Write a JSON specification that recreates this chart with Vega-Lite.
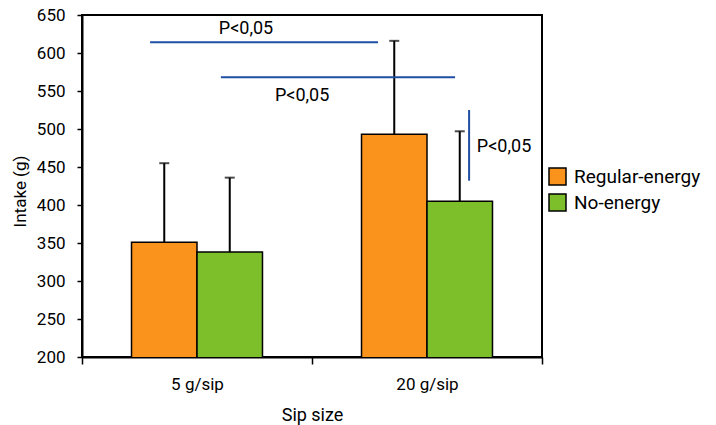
{
  "$schema": "https://vega.github.io/schema/vega-lite/v6.json",
  "width": 460,
  "height": 342,
  "autosize": {"type": "none"},
  "padding": {"left": 82, "top": 15, "right": 174, "bottom": 68},
  "background": "white",
  "config": {
    "font": "Roboto",
    "view": {"stroke": "black", "strokeWidth": 2},
    "axis": {"domainColor": "black", "domainWidth": 2, "tickColor": "black", "tickWidth": 1.5, "grid": false, "labelColor": "black", "titleColor": "black", "labelFont": "Roboto", "titleFont": "Roboto", "titleFontWeight": "normal"}
  },
  "datasets": {
    "bars": [
      {"sip": "5 g/sip", "drink": "Regular-energy", "intake": 351, "upper": 455},
      {"sip": "5 g/sip", "drink": "No-energy", "intake": 338, "upper": 436},
      {"sip": "20 g/sip", "drink": "Regular-energy", "intake": 493, "upper": 616},
      {"sip": "20 g/sip", "drink": "No-energy", "intake": 405, "upper": 497}
    ],
    "lines": [
      {"a": 0.296, "a2": 1.287, "v": 614, "v2": 614},
      {"a": 0.604, "a2": 1.622, "v": 568, "v2": 568},
      {"a": 1.683, "a2": 1.683, "v": 525, "v2": 432}
    ],
    "labels": [
      {"a": 0.713, "v": 632, "label": "P<0,05"},
      {"a": 0.957, "v": 543, "label": "P<0,05"},
      {"a": 1.835, "v": 476, "label": "P<0,05"}
    ]
  },
  "layer": [
    {
      "data": {"name": "bars"},
      "encoding": {
        "x": {"field": "sip", "type": "nominal", "sort": ["5 g/sip", "20 g/sip"],
          "scale": {"paddingInner": 0, "paddingOuter": 0},
          "axis": {"title": "Sip size", "labelAngle": 0, "tickBand": "extent", "labelFontSize": 17, "titleFontSize": 18, "tickSize": 7, "labelPadding": 12, "titlePadding": 14}},
        "xOffset": {"field": "drink", "type": "nominal", "sort": ["Regular-energy", "No-energy"],
          "scale": {"paddingInner": 0, "paddingOuter": 0.756}}
      },
      "layer": [
        {
          "mark": {"type": "bar", "stroke": "black", "strokeWidth": 1.5, "clip": true},
          "encoding": {
            "y": {"field": "intake", "type": "quantitative", "title": "Intake (g)",
              "scale": {"domain": [200, 650], "zero": false, "nice": false},
              "axis": {"values": [200, 250, 300, 350, 400, 450, 500, 550, 600, 650], "labelFontSize": 17, "titleFontSize": 17, "tickSize": 5, "labelPadding": 12, "titlePadding": 7, "titleY": 176}},
            "color": {"field": "drink", "type": "nominal", "sort": ["Regular-energy", "No-energy"],
              "scale": {"domain": ["Regular-energy", "No-energy"], "range": ["#F9931C", "#7DBE2B"]},
              "legend": {"title": null, "orient": "none", "legendX": 466, "legendY": 152, "symbolType": "square", "symbolSize": 289, "symbolStrokeColor": "black", "symbolStrokeWidth": 1.5, "symbolOpacity": 1, "labelFontSize": 19, "labelColor": "black", "labelFont": "Roboto", "labelOffset": 7, "rowPadding": 3}}
          }
        },
        {
          "mark": {"type": "rule", "color": "black", "strokeWidth": 2},
          "encoding": {
            "y": {"field": "intake", "type": "quantitative", "title": "Intake (g)",
              "scale": {"domain": [200, 650], "zero": false, "nice": false},
              "axis": {"values": [200, 250, 300, 350, 400, 450, 500, 550, 600, 650], "labelFontSize": 17, "titleFontSize": 17, "tickSize": 5, "labelPadding": 12, "titlePadding": 7, "titleY": 176}},
            "y2": {"field": "upper"}
          }
        },
        {
          "mark": {"type": "tick", "color": "black", "size": 10, "thickness": 2},
          "encoding": {
            "y": {"field": "upper", "type": "quantitative", "title": "Intake (g)",
              "scale": {"domain": [200, 650], "zero": false, "nice": false},
              "axis": {"values": [200, 250, 300, 350, 400, 450, 500, 550, 600, 650], "labelFontSize": 17, "titleFontSize": 17, "tickSize": 5, "labelPadding": 12, "titlePadding": 7, "titleY": 176}}
          }
        }
      ]
    },
    {
      "layer": [
        {
          "data": {"name": "lines"},
          "mark": {"type": "rule", "color": "#1F4FA3", "strokeWidth": 2},
          "encoding": {
            "x": {"field": "a", "type": "quantitative", "scale": {"domain": [0, 2], "nice": false, "zero": false}, "axis": null},
            "x2": {"field": "a2"},
            "y": {"field": "v", "type": "quantitative", "title": "Intake (g)",
              "scale": {"domain": [200, 650], "zero": false, "nice": false},
              "axis": {"values": [200, 250, 300, 350, 400, 450, 500, 550, 600, 650], "labelFontSize": 17, "titleFontSize": 17, "tickSize": 5, "labelPadding": 12, "titlePadding": 7, "titleY": 176}},
            "y2": {"field": "v2"}
          }
        },
        {
          "data": {"name": "labels"},
          "mark": {"type": "text", "fontSize": 18, "color": "black", "font": "Roboto"},
          "encoding": {
            "x": {"field": "a", "type": "quantitative", "scale": {"domain": [0, 2], "nice": false, "zero": false}, "axis": null},
            "y": {"field": "v", "type": "quantitative", "title": "Intake (g)",
              "scale": {"domain": [200, 650], "zero": false, "nice": false},
              "axis": {"values": [200, 250, 300, 350, 400, 450, 500, 550, 600, 650], "labelFontSize": 17, "titleFontSize": 17, "tickSize": 5, "labelPadding": 12, "titlePadding": 7, "titleY": 176}},
            "text": {"field": "label"}
          }
        }
      ]
    }
  ],
  "resolve": {"scale": {"x": "independent"}}
}
